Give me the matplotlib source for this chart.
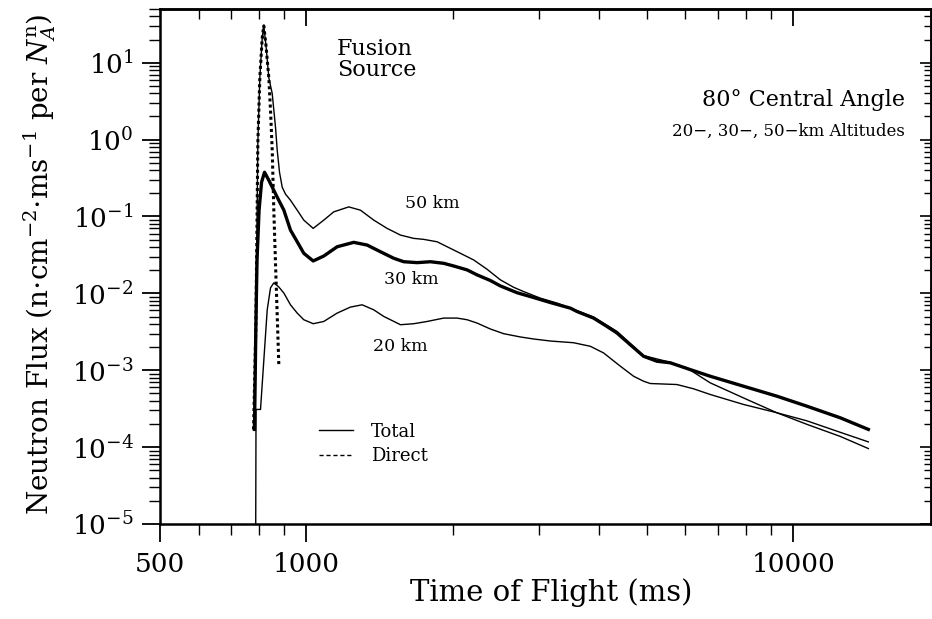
import numpy as np
import matplotlib
matplotlib.use("Agg")
import matplotlib.pyplot as plt
from matplotlib.lines import Line2D
from matplotlib.ticker import LogLocator, NullFormatter

plt.rcParams['font.family'] = ['DejaVu Serif']
plt.rcParams['mathtext.fontset'] = 'dejavuserif'

# ---- data (time of flight in ms, flux) ----
t50 = [778.3, 786.8, 790.6, 794.3, 801.9, 811.0, 817.1, 825.7, 836.7, 850.3, 863.7, 870.7,
       880.2, 891.5, 905.6, 927.0, 957.0, 987.3, 1032.2, 1085.2, 1137.7, 1221.3, 1290.9,
       1374.6, 1464.6, 1560, 1661.3, 1741.5, 1855.3, 1945.1, 2071.2, 2205.5, 2349.6, 2502.3,
       2664.7, 2793.8, 3022.9, 3271.2, 3483.8, 3889.9, 4345.3, 4927.3, 5590.0, 6049.2,
       6754.0, 8034.2, 9258.8, 10669, 12490, 14274]
f50 = [1.7e-4, 3.36e-3, 0.0494, 0.892, 6.39, 21.1, 30.2, 16.6, 6.39, 3.97, 1.44, 0.724,
       0.3755, 0.240, 0.195, 0.1628, 0.1208, 0.0897, 0.0700, 0.0897, 0.1149, 0.1333, 0.1208,
       0.0897, 0.0700, 0.0573, 0.0519, 0.0504, 0.0469, 0.0404, 0.0332, 0.0272, 0.0206, 0.0150,
       0.0120, 0.01055, 0.00867, 0.00747, 0.00643, 0.00492, 0.00320, 0.00155, 0.00127, 0.00107,
       0.000686, 0.000417, 0.000280, 0.000198, 0.000138, 0.0000958]

t30 = [781.9, 786.8, 791.3, 799.0, 808.4, 819.9, 836.7, 870.7, 898.4, 927.0, 957.0, 987.3,
       1032.2, 1085.2, 1156.2, 1250.6, 1332.4, 1418.8, 1511.3, 1584.3, 1688.2, 1797.7, 1914.1,
       2006.6, 2137.8, 2241.3, 2386.8, 2502.3, 2707.9, 2883.6, 3169.9, 3483.8, 3596.0, 3889.9,
       4144.6, 4345.3, 4627.2, 4927.3, 5249.4, 5590.0, 6144.3, 6754.0, 7906.1, 9258.8, 10669,
       12490, 14274]
f30 = [1.70e-4, 3.36e-3, 0.0272, 0.121, 0.279, 0.376, 0.296, 0.178, 0.121, 0.0665, 0.0469,
       0.0332, 0.0264, 0.0306, 0.0404, 0.0461, 0.0425, 0.0348, 0.0286, 0.0258, 0.0251, 0.0258,
       0.0246, 0.0227, 0.0202, 0.0174, 0.0147, 0.0125, 0.0102, 0.00909, 0.00760, 0.00643,
       0.00581, 0.00477, 0.00371, 0.00305, 0.00215, 0.00152, 0.00131, 0.00125, 0.00102,
       0.000836, 0.000620, 0.000460, 0.000341, 0.000241, 0.000170]

t20 = [785.7, 787.6, 804.5, 830.4, 843.5, 856.8, 877.3, 898.4, 927.0, 957.0, 987.3, 1032.2,
       1085.2, 1156.2, 1231.2, 1301.2, 1374.6, 1441.3, 1487.6, 1560, 1661.3, 1769.5, 1914.1,
       2039.2, 2137.8, 2241.3, 2386.8, 2541.6, 2750.6, 2929.6, 3169.9, 3538.5, 3829.9, 4078.0,
       4414.1, 4699.8, 4927.3, 5085.9, 5769.8, 6241.0, 6754.0, 7906.1, 9258.8, 10669, 12490, 14274]
f20 = [1e-6, 3.09e-4, 3.09e-4, 6.11e-3, 0.0118, 0.0137, 0.0121, 0.0101, 0.00710, 0.00554,
       0.00454, 0.00403, 0.00431, 0.00554, 0.00663, 0.00710, 0.00611, 0.00501, 0.00454, 0.00391,
       0.00403, 0.00431, 0.00477, 0.00477, 0.00454, 0.00411, 0.00344, 0.00299, 0.00271, 0.00255,
       0.00240, 0.00228, 0.00205, 0.00168, 0.00113, 0.000836, 0.000720, 0.000672, 0.000652,
       0.000574, 0.000484, 0.000359, 0.000280, 0.000220, 0.000156, 0.000117]

t_direct = [778.3, 786.8, 790.6, 794.3, 801.9, 811.0, 817.1, 825.7, 836.7, 843.5, 850.3,
            856.8, 863.7, 870.7, 877.3]
f_direct = [1.7e-4, 3.36e-3, 0.0494, 0.892, 6.39, 21.1, 30.2, 16.6, 6.39, 2.39, 0.724,
            0.118, 0.0241, 5.11e-3, 1.18e-3]

xtick_vals = [500, 1000, 10000]
xtick_labels = ['500', '1000', '10000']

# ---- figure ----
W, H = 932, 619
fig = plt.figure(figsize=(W / 100, H / 100), dpi=100)
ax = fig.add_axes([160 / W, 95 / H, 771 / W, 515 / H])
ax.set_xscale('log')
ax.set_yscale('log')
ax.set_xlim(500, 19200)
ax.set_ylim(1e-5, 50)

ax.plot(t50, f50, color='k', lw=1.0, solid_joinstyle='round')
ax.plot(t30, f30, color='k', lw=2.4, solid_joinstyle='round')
ax.plot(t20, f20, color='k', lw=1.0, solid_joinstyle='round')
ax.plot(t_direct, f_direct, color='k', lw=2.2, linestyle=(0, (1, 1)))

# ticks
ax.set_xticks(xtick_vals, labels=xtick_labels)
ax.xaxis.set_minor_locator(LogLocator(base=10, subs=np.arange(2, 10)))
ax.xaxis.set_minor_formatter(NullFormatter())
ax.yaxis.set_major_locator(LogLocator(base=10, numticks=20))
ax.yaxis.set_minor_locator(LogLocator(base=10, subs=np.arange(2, 10), numticks=20))
ax.yaxis.set_minor_formatter(NullFormatter())
ax.tick_params(axis='both', which='major', direction='out', length=13, width=1.3,
               labelsize=19, top=False, right=False)
ax.tick_params(axis='both', which='minor', direction='out', length=8, width=1.0,
               top=False, right=False)
ax.tick_params(axis='x', which='major', pad=7)
ax.tick_params(axis='y', which='major', pad=6)

secx = ax.secondary_xaxis('top')
secx.xaxis.set_major_locator(LogLocator(base=10, numticks=10))
secx.xaxis.set_minor_locator(LogLocator(base=10, subs=np.arange(2, 10)))
secx.xaxis.set_major_formatter(NullFormatter())
secx.xaxis.set_minor_formatter(NullFormatter())
secx.tick_params(which='major', direction='in', length=12, width=1.3)
secx.tick_params(which='minor', direction='in', length=7, width=1.0)

secy = ax.secondary_yaxis('right')
secy.yaxis.set_major_locator(LogLocator(base=10, numticks=20))
secy.yaxis.set_minor_locator(LogLocator(base=10, subs=np.arange(2, 10), numticks=20))
secy.yaxis.set_major_formatter(NullFormatter())
secy.yaxis.set_minor_formatter(NullFormatter())
secy.tick_params(which='major', direction='in', length=8, width=1.2)
secy.tick_params(which='minor', direction='in', length=5, width=1.0)

for s in ax.spines.values():
    s.set_linewidth(1.8)
for s in list(secx.spines.values()) + list(secy.spines.values()):
    s.set_linewidth(1.8)

# labels
ax.set_xlabel('Time of Flight (ms)', fontsize=21)
ax.xaxis.set_label_coords(0.508, -0.105)
ax.set_ylabel(r'Neutron Flux (n$\cdot$cm$^{-2}$$\cdot$ms$^{-1}$ per $N_A^{\mathrm{n}}$)', fontsize=20)
ax.yaxis.set_label_coords(-0.132, 0.505)

# annotations
ax.text(0.2296, 0.9437, 'Fusion\nSource', transform=ax.transAxes, ha='left', va='top',
        fontsize=16, linespacing=0.95)
ax.text(0.9663, 0.8233, '80° Central Angle', transform=ax.transAxes, ha='right', va='center',
        fontsize=16)
ax.text(0.9663, 0.7631, '20\u2212, 30\u2212, 50\u2212km Altitudes', transform=ax.transAxes,
        ha='right', va='center', fontsize=12)
ax.text(0.3528, 0.6233, '50 km', transform=ax.transAxes, ha='center', va='center', fontsize=12.5)
ax.text(0.3256, 0.4757, '30 km', transform=ax.transAxes, ha='center', va='center', fontsize=12.5)
ax.text(0.3113, 0.3437, '20 km', transform=ax.transAxes, ha='center', va='center', fontsize=12.5)

handles = [Line2D([], [], color='k', lw=1.0),
           Line2D([], [], color='k', lw=1.0, linestyle=(0, (3, 2)))]
ax.legend(handles, ['Total', 'Direct'], loc='upper left', bbox_to_anchor=(0.206, 0.197),
          frameon=False, fontsize=13, handlelength=1.9, handletextpad=1.0,
          labelspacing=0.35, borderpad=0, borderaxespad=0)

fig.savefig('out.png', dpi=100)
